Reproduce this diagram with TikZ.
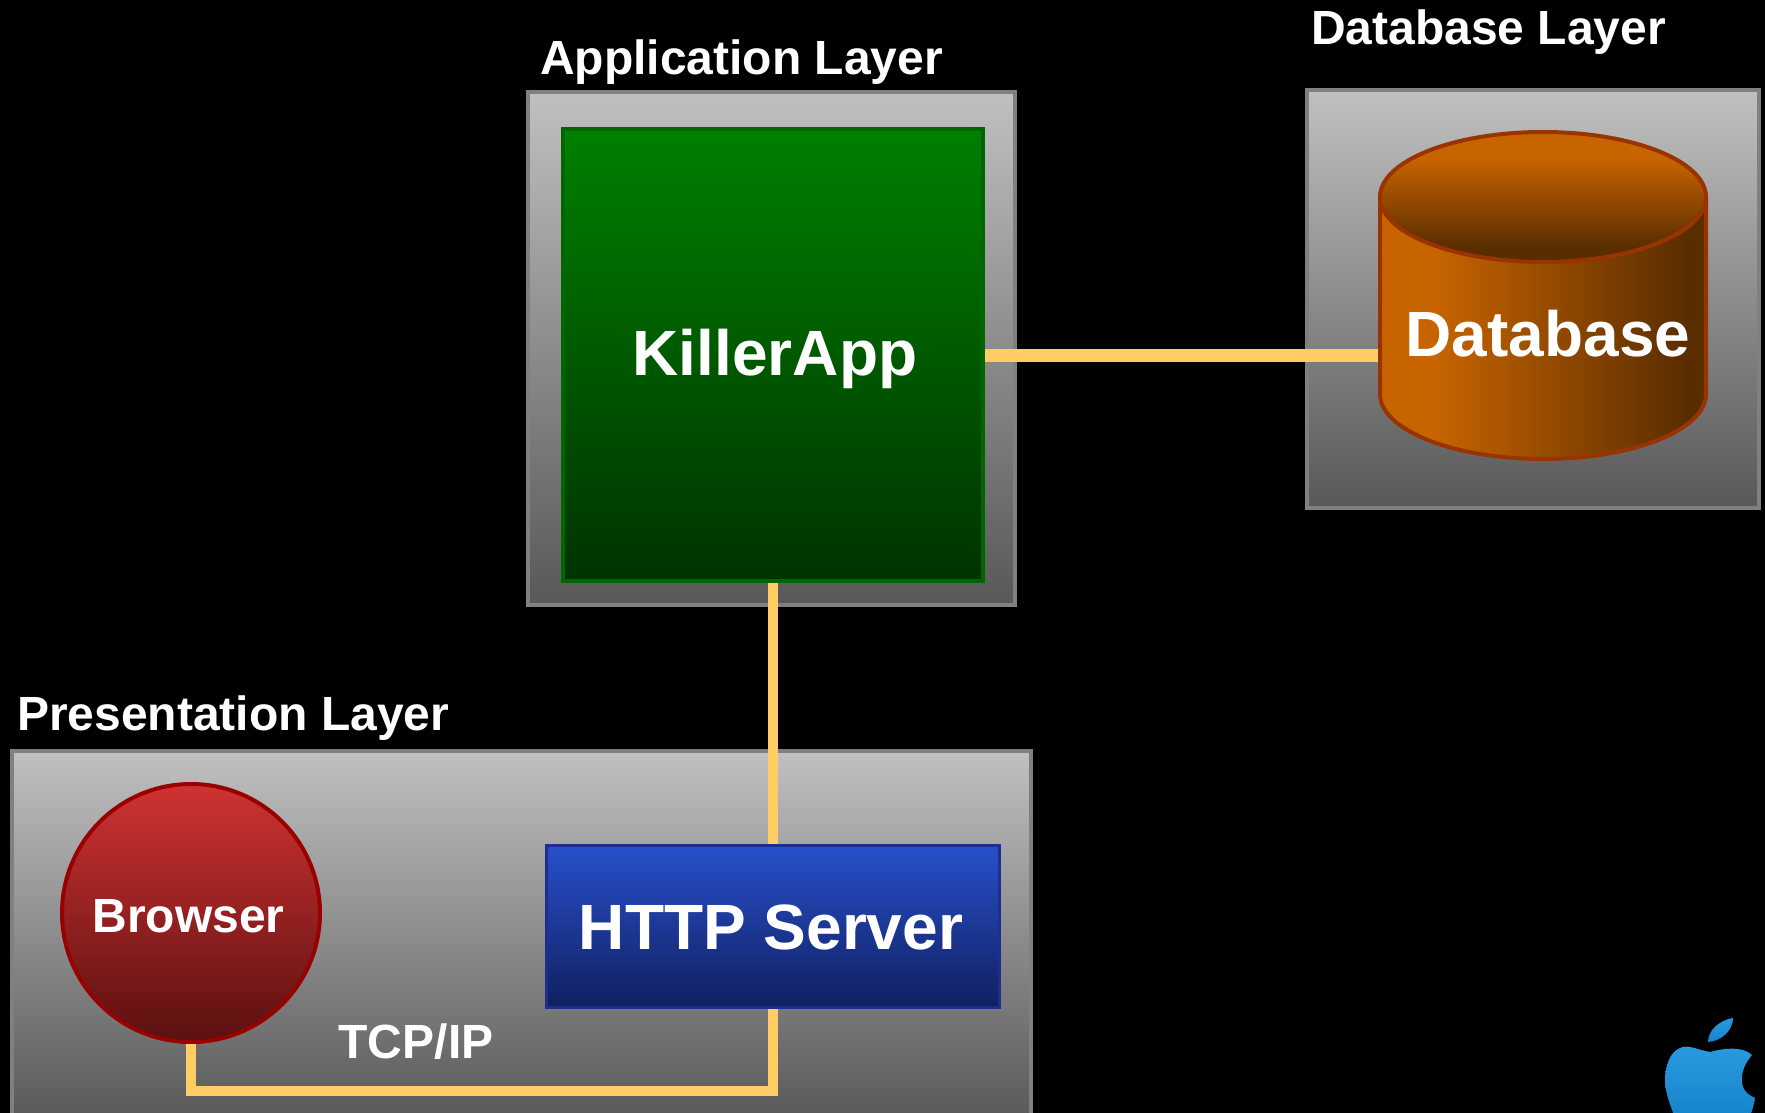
\documentclass[tikz,border=0pt]{standalone}
\usepackage{fontspec}
\setmainfont{Liberation Sans}
\usetikzlibrary{shadings}
\definecolor{cylA}{HTML}{C86400}
\definecolor{cylB}{HTML}{5A2D00}
\definecolor{wirecol}{HTML}{FFCC66}
\definecolor{cyledge}{HTML}{993300}
\definecolor{layA}{HTML}{C0C0C0}
\definecolor{layB}{HTML}{585858}
\definecolor{layE}{HTML}{808080}
\definecolor{grnA}{HTML}{008000}
\definecolor{grnB}{HTML}{003300}
\definecolor{grnE}{HTML}{006600}
\definecolor{bluA}{HTML}{2850CC}
\definecolor{bluB}{HTML}{102060}
\definecolor{bluE}{HTML}{1E2E90}
\definecolor{redA}{HTML}{D03232}
\definecolor{redB}{HTML}{5A1010}
\definecolor{redE}{HTML}{990000}
\definecolor{appA}{HTML}{2A9BE0}
\definecolor{appB}{HTML}{1583CC}
\pgfdeclarehorizontalshading{cylbody}{100bp}{color(0bp)=(cylA); color(33bp)=(cylA); color(72bp)=(cylB); color(100bp)=(cylB)}
\pgfdeclareverticalshading{cyltop}{100bp}{color(0bp)=(cylB); color(31bp)=(cylB); color(65bp)=(cylA); color(100bp)=(cylA)}
\tikzset{
  x=1pt,y=-1pt,
  layerbox/.style={rectangle,draw=layE,line width=4pt,top color=layA,bottom color=layB,inner sep=0pt,outer sep=0pt},
  wire/.style={draw=wirecol,line width=10pt},
  thickwire/.style={draw=wirecol,line width=13pt},
  appbox/.style={rectangle,draw=grnE,line width=4pt,top color=grnA,bottom color=grnB,inner sep=0pt},
  httpbox/.style={rectangle,draw=bluE,line width=3pt,top color=bluA,bottom color=bluB,inner sep=0pt},
  browserball/.style={circle,draw=redE,line width=4pt,top color=redA,bottom color=redB,inner sep=0pt},
  title/.style={anchor=base west,inner sep=0pt,text=white,font=\fontsize{48}{52}\selectfont\bfseries},
  plain/.style={inner sep=0pt,text=white,font=\fontsize{48}{52}\selectfont\bfseries},
  dbtext/.style={inner sep=0pt,text=white,font=\fontsize{64}{70}\selectfont\bfseries},
  cylline/.style={draw=cyledge,line width=4pt},
}
\begin{document}
\begin{tikzpicture}
\useasboundingbox (0,0) rectangle (1765,1113);
\clip (0,0) rectangle (1765,1113);
\fill[black] (0,0) rectangle (1765,1113);
% layers
\node[layerbox,minimum width=487pt,minimum height=512pt] (applayer) at (771.5,348.5) {};
\node[layerbox,minimum width=452pt,minimum height=418pt] (dblayer) at (1533,299) {};
\node[layerbox,minimum width=1019pt,minimum height=372pt] (preslayer) at (521.5,937) {};
\node[title] (apptitle) at (540,74.5) {Application Layer};
\node[title] (dbtitle) at (1311,45) {Database Layer};
\node[title] (prestitle) at (17,730) {Presentation Layer};
% components
\node[appbox,minimum width=420pt,minimum height=452pt] (killer) at (773,355) {};
\node[dbtext] (killertext) at (775,359) {KillerApp};
\node[httpbox,minimum width=453pt,minimum height=162pt] (http) at (773,926) {};
\node[dbtext] (httptext) at (771,927) {HTTP Server};
\node[browserball,minimum size=258pt] (browser) at (191,913) {};
\node[plain] (browsertext) at (188.5,916) {Browser};
\node[plain] (tcp) at (416,1042) {TCP/IP};
% database cylinder
\path[shading=cylbody,shading angle=0]
  (1380,197) -- (1380,394) arc [start angle=180,end angle=360,x radius=163pt,y radius=65pt]
  -- (1706,197) arc [start angle=0,end angle=180,x radius=163pt,y radius=65pt] -- cycle;
\draw[cylline] (1380,197) -- (1380,394) arc [start angle=180,end angle=360,x radius=163pt,y radius=65pt] -- (1706,197);
\path[shading=cyltop] (1543,197) ellipse [x radius=163pt,y radius=65pt];
\draw[cylline] (1543,197) ellipse [x radius=163pt,y radius=65pt];
\node[minimum width=330pt,minimum height=331pt,inner sep=0pt,outer sep=0pt] (db) at (1543,295.5) {};
\node[dbtext] (dbtext) at (1548,334) {Database};
% connectors
\coordinate (bus) at (0,1091);
\draw[wire] (killer.south) -- (http.north);
\draw[thickwire] (killer.east) -- (db.west |- killer.east);
\draw[wire] (browser.south) -- (browser.south |- bus) -- (http.south |- bus) -- (http.south);
% apple logo
\fill[top color=appA,bottom color=appB] (1708,1042) .. controls (1708,1030) and (1720,1020) .. (1733,1018) .. controls (1733,1030) and (1722,1041) .. (1708,1042) -- cycle;
\fill[top color=appA,bottom color=appB] (1710,1052) .. controls (1698,1050) and (1688,1044) .. (1680,1048) .. controls (1670,1052) and (1665,1066) .. (1665,1080) .. controls (1665,1092) and (1670,1105) .. (1676,1120) -- (1748,1120) .. controls (1752,1112) and (1754,1105) .. (1755,1098) .. controls (1746,1094) and (1741,1088) .. (1742,1078) .. controls (1742,1068) and (1748,1060) .. (1752,1055) .. controls (1742,1046) and (1725,1048) .. (1710,1052) -- cycle;
\end{tikzpicture}
\end{document}
